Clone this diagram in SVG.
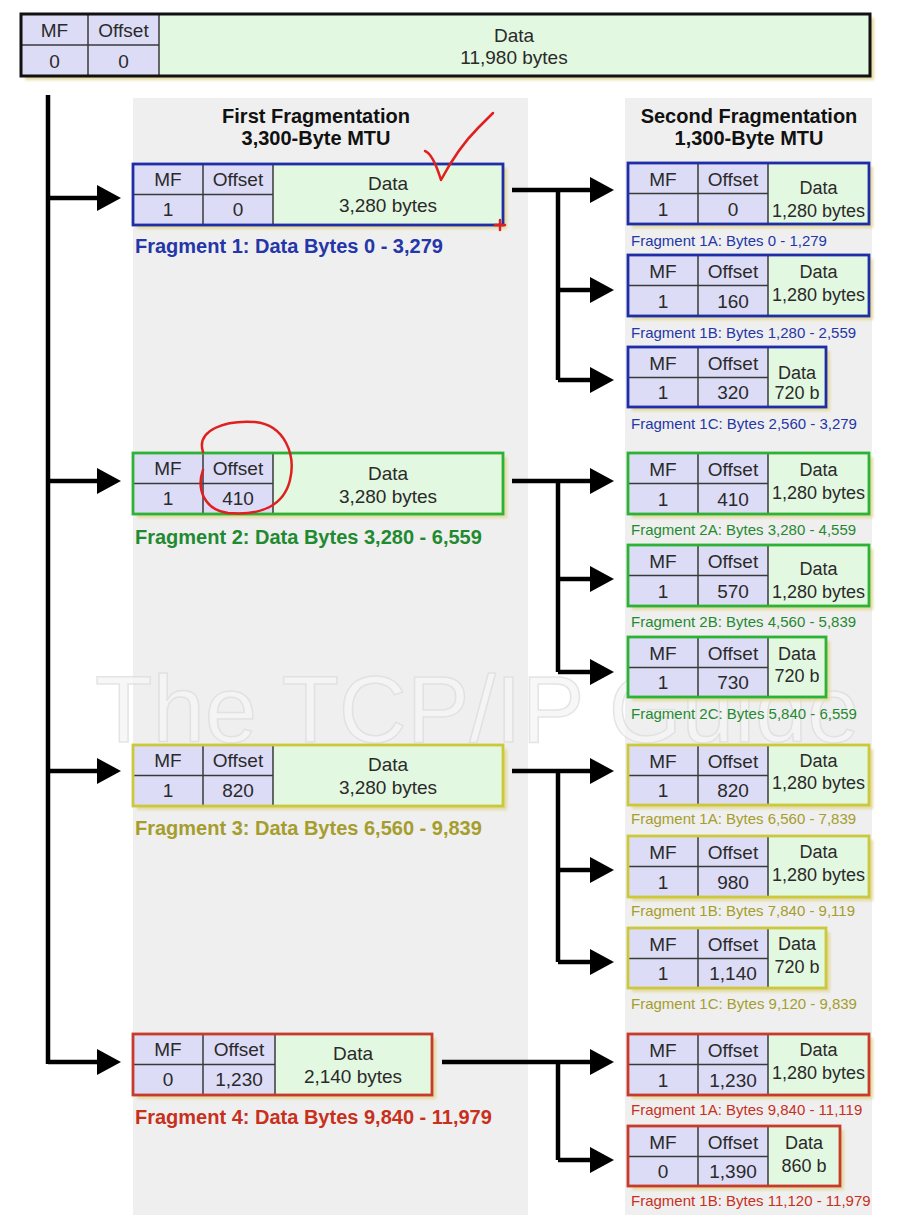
<svg xmlns="http://www.w3.org/2000/svg" width="904" height="1227" viewBox="0 0 904 1227">
<defs>
<marker id="ah" viewBox="0 0 24 26" refX="0" refY="13" markerWidth="24" markerHeight="26" markerUnits="userSpaceOnUse" orient="auto">
<path d="M0,0 L24,13 L0,26 Z" fill="#000"/>
</marker>
<filter id="sh" x="-5%" y="-20%" width="110%" height="140%"><feGaussianBlur stdDeviation="1.5"/></filter>
</defs>
<style>
text{font-family:"Liberation Sans",Arial,sans-serif;fill:#2a2a2a}
.c{font-size:19px;text-anchor:middle}
.d2{font-size:18px;text-anchor:middle}
.t{font-size:20px;font-weight:bold;text-anchor:middle;fill:#111}
.fl{font-size:20px;font-weight:bold}
.sl{font-size:15px}
.hdr{fill:#dcdcf6}
.dat{fill:#e3f8e0}
.div{stroke:#3a3a3a;stroke-width:1.5;fill:none}
.bd{fill:none;stroke-width:2.8}
.shadow{fill:#e4d9a0;filter:url(#sh)}
.blue .bd{stroke:#1f2ea6}
.green .bd{stroke:#2cb234}
.yellow .bd{stroke:#cbc83c}
.red .bd{stroke:#c83a2a}
.blue .fl,.blue .sl{fill:#2436a8}
.green .fl,.green .sl{fill:#1f8a30}
.yellow .fl,.yellow .sl{fill:#a59d2c}
.red .fl,.red .sl{fill:#c8301e}
.conn{stroke:#000;stroke-width:4.5;fill:none}
.panel{fill:#efefef}
.wm{font-size:94px;fill:#f6f6f6;stroke:#dedede;stroke-width:1.5;opacity:0.8}
.note{stroke:#e02020;stroke-width:2.5;fill:none;stroke-linecap:round;stroke-linejoin:round}
</style>
<rect width="904" height="1227" fill="#ffffff"/>
<g id="panels">
<rect class="panel" x="133" y="98" width="395" height="1117"/>
<rect class="panel" x="625" y="98" width="247" height="1117"/>
</g>
<text class="wm" x="95" y="742">The TCP/IP Guide</text>
<g id="titles">
<text class="t" x="316" y="123">First Fragmentation</text>
<text class="t" x="316" y="145">3,300-Byte MTU</text>
<text class="t" x="749" y="123">Second Fragmentation</text>
<text class="t" x="749" y="145">1,300-Byte MTU</text>
</g>
<g id="original">
<rect class="shadow" x="25" y="18" width="849" height="62"/>
<rect class="hdr" x="21" y="14" width="138" height="62"/>
<rect class="dat" x="159" y="14" width="711" height="62"/>
<path class="div" d="M88,14V76M159,14V76M21,45H159"/>
<rect x="21" y="14" width="849" height="62" fill="none" stroke="#111" stroke-width="3"/>
<text class="c" x="54.5" y="37">MF</text>
<text class="c" x="123.5" y="37">Offset</text>
<text class="c" x="54.5" y="68">0</text>
<text class="c" x="123.5" y="68">0</text>
<text class="c" x="514" y="42">Data</text>
<text class="c" x="514" y="64">11,980 bytes</text>
</g>
<g id="connectors">
<path class="conn" d="M48,95V1064"/>
<path class="conn" d="M48,198H97" marker-end="url(#ah)"/>
<path class="conn" d="M48,481H97" marker-end="url(#ah)"/>
<path class="conn" d="M48,771H97" marker-end="url(#ah)"/>
<path class="conn" d="M48,1062H97" marker-end="url(#ah)"/>
<path class="conn" d="M512,190H590" marker-end="url(#ah)"/>
<path class="conn" d="M558,190V380"/>
<path class="conn" d="M558,290H590" marker-end="url(#ah)"/>
<path class="conn" d="M558,380H590" marker-end="url(#ah)"/>
<path class="conn" d="M512,481H590" marker-end="url(#ah)"/>
<path class="conn" d="M558,481V672"/>
<path class="conn" d="M558,579H590" marker-end="url(#ah)"/>
<path class="conn" d="M558,672H590" marker-end="url(#ah)"/>
<path class="conn" d="M512,771H590" marker-end="url(#ah)"/>
<path class="conn" d="M558,771V962"/>
<path class="conn" d="M558,870H590" marker-end="url(#ah)"/>
<path class="conn" d="M558,962H590" marker-end="url(#ah)"/>
<path class="conn" d="M442,1062H590" marker-end="url(#ah)"/>
<path class="conn" d="M558,1062V1160"/>
<path class="conn" d="M558,1160H590" marker-end="url(#ah)"/>
</g>
<g id="frag1" class="blue">
<rect class="shadow" x="137" y="168" width="370" height="61"/>
<rect class="hdr" x="133" y="164" width="140" height="61"/>
<rect class="dat" x="273" y="164" width="230" height="61"/>
<path class="div" d="M203,164V225M273,164V225M133,194.5H273"/>
<rect class="bd" x="133" y="164" width="370" height="61"/>
<text class="c" x="168" y="186">MF</text>
<text class="c" x="238" y="186">Offset</text>
<text class="c" x="168" y="216">1</text>
<text class="c" x="238" y="216">0</text>
<text class="c" x="388" y="190">Data</text>
<text class="c" x="388" y="212">3,280 bytes</text>
<text class="fl" x="135" y="253">Fragment 1: Data Bytes 0 - 3,279</text>
</g>
<g id="frag2" class="green">
<rect class="shadow" x="137" y="457" width="370" height="61"/>
<rect class="hdr" x="133" y="453" width="140" height="61"/>
<rect class="dat" x="273" y="453" width="230" height="61"/>
<path class="div" d="M203,453V514M273,453V514M133,483.5H273"/>
<rect class="bd" x="133" y="453" width="370" height="61"/>
<text class="c" x="168" y="475">MF</text>
<text class="c" x="238" y="475">Offset</text>
<text class="c" x="168" y="505">1</text>
<text class="c" x="238" y="505">410</text>
<text class="c" x="388" y="480">Data</text>
<text class="c" x="388" y="503">3,280 bytes</text>
<text class="fl" x="135" y="544">Fragment 2: Data Bytes 3,280 - 6,559</text>
</g>
<g id="frag3" class="yellow">
<rect class="shadow" x="137" y="749" width="370" height="61"/>
<rect class="hdr" x="133" y="745" width="140" height="61"/>
<rect class="dat" x="273" y="745" width="230" height="61"/>
<path class="div" d="M203,745V806M273,745V806M133,775.5H273"/>
<rect class="bd" x="133" y="745" width="370" height="61"/>
<text class="c" x="168" y="767">MF</text>
<text class="c" x="238" y="767">Offset</text>
<text class="c" x="168" y="797">1</text>
<text class="c" x="238" y="797">820</text>
<text class="c" x="388" y="771">Data</text>
<text class="c" x="388" y="794">3,280 bytes</text>
<text class="fl" x="135" y="835">Fragment 3: Data Bytes 6,560 - 9,839</text>
</g>
<g id="frag4" class="red">
<rect class="shadow" x="137" y="1038" width="299" height="61"/>
<rect class="hdr" x="133" y="1034" width="142" height="61"/>
<rect class="dat" x="275" y="1034" width="157" height="61"/>
<path class="div" d="M203,1034V1095M275,1034V1095M133,1064.5H275"/>
<rect class="bd" x="133" y="1034" width="299" height="61"/>
<text class="c" x="168" y="1056">MF</text>
<text class="c" x="239" y="1056">Offset</text>
<text class="c" x="168" y="1086">0</text>
<text class="c" x="239" y="1086">1,230</text>
<text class="c" x="353" y="1060">Data</text>
<text class="c" x="353" y="1083">2,140 bytes</text>
<text class="fl" x="135" y="1124">Fragment 4: Data Bytes 9,840 - 11,979</text>
</g>
<g id="frag1a" class="blue">
<rect class="shadow" x="632" y="167" width="241" height="61"/>
<rect class="hdr" x="628" y="163" width="140" height="61"/>
<rect class="dat" x="768" y="163" width="101" height="61"/>
<path class="div" d="M698,163V224M768,163V224M628,193.5H768"/>
<rect class="bd" x="628" y="163" width="241" height="61"/>
<text class="c" x="663" y="186">MF</text>
<text class="c" x="733" y="186">Offset</text>
<text class="c" x="663" y="216">1</text>
<text class="c" x="733" y="216">0</text>
<text class="d2" x="818.5" y="194">Data</text>
<text class="d2" x="818.5" y="217">1,280 bytes</text>
<text class="sl" x="631" y="246">Fragment 1A: Bytes 0 - 1,279</text>
</g>
<g id="frag1b" class="blue">
<rect class="shadow" x="632" y="259" width="241" height="61"/>
<rect class="hdr" x="628" y="255" width="140" height="61"/>
<rect class="dat" x="768" y="255" width="101" height="61"/>
<path class="div" d="M698,255V316M768,255V316M628,285.5H768"/>
<rect class="bd" x="628" y="255" width="241" height="61"/>
<text class="c" x="663" y="278">MF</text>
<text class="c" x="733" y="278">Offset</text>
<text class="c" x="663" y="308">1</text>
<text class="c" x="733" y="308">160</text>
<text class="d2" x="818.5" y="278">Data</text>
<text class="d2" x="818.5" y="301">1,280 bytes</text>
<text class="sl" x="631" y="338">Fragment 1B: Bytes 1,280 - 2,559</text>
</g>
<g id="frag1c" class="blue">
<rect class="shadow" x="632" y="351" width="198" height="60"/>
<rect class="hdr" x="628" y="347" width="140" height="60"/>
<rect class="dat" x="768" y="347" width="58" height="60"/>
<path class="div" d="M698,347V407M768,347V407M628,377.5H768"/>
<rect class="bd" x="628" y="347" width="198" height="60"/>
<text class="c" x="663" y="370">MF</text>
<text class="c" x="733" y="370">Offset</text>
<text class="c" x="663" y="399">1</text>
<text class="c" x="733" y="399">320</text>
<text class="d2" x="797" y="379">Data</text>
<text class="d2" x="797" y="399">720 b</text>
<text class="sl" x="631" y="429">Fragment 1C: Bytes 2,560 - 3,279</text>
</g>
<g id="frag2a" class="green">
<rect class="shadow" x="632" y="457" width="241" height="61"/>
<rect class="hdr" x="628" y="453" width="140" height="61"/>
<rect class="dat" x="768" y="453" width="101" height="61"/>
<path class="div" d="M698,453V514M768,453V514M628,483.5H768"/>
<rect class="bd" x="628" y="453" width="241" height="61"/>
<text class="c" x="663" y="476">MF</text>
<text class="c" x="733" y="476">Offset</text>
<text class="c" x="663" y="506">1</text>
<text class="c" x="733" y="506">410</text>
<text class="d2" x="818.5" y="476">Data</text>
<text class="d2" x="818.5" y="499">1,280 bytes</text>
<text class="sl" x="631" y="535">Fragment 2A: Bytes 3,280 - 4,559</text>
</g>
<g id="frag2b" class="green">
<rect class="shadow" x="632" y="549" width="241" height="61"/>
<rect class="hdr" x="628" y="545" width="140" height="61"/>
<rect class="dat" x="768" y="545" width="101" height="61"/>
<path class="div" d="M698,545V606M768,545V606M628,575.5H768"/>
<rect class="bd" x="628" y="545" width="241" height="61"/>
<text class="c" x="663" y="568">MF</text>
<text class="c" x="733" y="568">Offset</text>
<text class="c" x="663" y="598">1</text>
<text class="c" x="733" y="598">570</text>
<text class="d2" x="818.5" y="575">Data</text>
<text class="d2" x="818.5" y="598">1,280 bytes</text>
<text class="sl" x="631" y="627">Fragment 2B: Bytes 4,560 - 5,839</text>
</g>
<g id="frag2c" class="green">
<rect class="shadow" x="632" y="641" width="198" height="60"/>
<rect class="hdr" x="628" y="637" width="140" height="60"/>
<rect class="dat" x="768" y="637" width="58" height="60"/>
<path class="div" d="M698,637V697M768,637V697M628,667.5H768"/>
<rect class="bd" x="628" y="637" width="198" height="60"/>
<text class="c" x="663" y="660">MF</text>
<text class="c" x="733" y="660">Offset</text>
<text class="c" x="663" y="689">1</text>
<text class="c" x="733" y="689">730</text>
<text class="d2" x="797" y="660">Data</text>
<text class="d2" x="797" y="682">720 b</text>
<text class="sl" x="631" y="719">Fragment 2C: Bytes 5,840 - 6,559</text>
</g>
<g id="frag3a" class="yellow">
<rect class="shadow" x="632" y="749" width="241" height="60"/>
<rect class="hdr" x="628" y="745" width="140" height="60"/>
<rect class="dat" x="768" y="745" width="101" height="60"/>
<path class="div" d="M698,745V805M768,745V805M628,775.5H768"/>
<rect class="bd" x="628" y="745" width="241" height="60"/>
<text class="c" x="663" y="768">MF</text>
<text class="c" x="733" y="768">Offset</text>
<text class="c" x="663" y="797">1</text>
<text class="c" x="733" y="797">820</text>
<text class="d2" x="818.5" y="767">Data</text>
<text class="d2" x="818.5" y="789">1,280 bytes</text>
<text class="sl" x="631" y="824">Fragment 1A: Bytes 6,560 - 7,839</text>
</g>
<g id="frag3b" class="yellow">
<rect class="shadow" x="632" y="840" width="241" height="61"/>
<rect class="hdr" x="628" y="836" width="140" height="61"/>
<rect class="dat" x="768" y="836" width="101" height="61"/>
<path class="div" d="M698,836V897M768,836V897M628,866.5H768"/>
<rect class="bd" x="628" y="836" width="241" height="61"/>
<text class="c" x="663" y="859">MF</text>
<text class="c" x="733" y="859">Offset</text>
<text class="c" x="663" y="889">1</text>
<text class="c" x="733" y="889">980</text>
<text class="d2" x="818.5" y="858">Data</text>
<text class="d2" x="818.5" y="881">1,280 bytes</text>
<text class="sl" x="631" y="916">Fragment 1B: Bytes 7,840 - 9,119</text>
</g>
<g id="frag3c" class="yellow">
<rect class="shadow" x="632" y="932" width="198" height="60"/>
<rect class="hdr" x="628" y="928" width="140" height="60"/>
<rect class="dat" x="768" y="928" width="58" height="60"/>
<path class="div" d="M698,928V988M768,928V988M628,958.5H768"/>
<rect class="bd" x="628" y="928" width="198" height="60"/>
<text class="c" x="663" y="951">MF</text>
<text class="c" x="733" y="951">Offset</text>
<text class="c" x="663" y="980">1</text>
<text class="c" x="733" y="980">1,140</text>
<text class="d2" x="797" y="950">Data</text>
<text class="d2" x="797" y="973">720 b</text>
<text class="sl" x="631" y="1009">Fragment 1C: Bytes 9,120 - 9,839</text>
</g>
<g id="frag4a" class="red">
<rect class="shadow" x="632" y="1038" width="241" height="61"/>
<rect class="hdr" x="628" y="1034" width="140" height="61"/>
<rect class="dat" x="768" y="1034" width="101" height="61"/>
<path class="div" d="M698,1034V1095M768,1034V1095M628,1064.5H768"/>
<rect class="bd" x="628" y="1034" width="241" height="61"/>
<text class="c" x="663" y="1057">MF</text>
<text class="c" x="733" y="1057">Offset</text>
<text class="c" x="663" y="1087">1</text>
<text class="c" x="733" y="1087">1,230</text>
<text class="d2" x="818.5" y="1056">Data</text>
<text class="d2" x="818.5" y="1079">1,280 bytes</text>
<text class="sl" x="631" y="1115">Fragment 1A: Bytes 9,840 - 11,119</text>
</g>
<g id="frag4b" class="red">
<rect class="shadow" x="632" y="1130" width="212" height="60"/>
<rect class="hdr" x="628" y="1126" width="140" height="60"/>
<rect class="dat" x="768" y="1126" width="72" height="60"/>
<path class="div" d="M698,1126V1186M768,1126V1186M628,1156.5H768"/>
<rect class="bd" x="628" y="1126" width="212" height="60"/>
<text class="c" x="663" y="1149">MF</text>
<text class="c" x="733" y="1149">Offset</text>
<text class="c" x="663" y="1178">0</text>
<text class="c" x="733" y="1178">1,390</text>
<text class="d2" x="804" y="1149">Data</text>
<text class="d2" x="804" y="1172">860 b</text>
<text class="sl" x="631" y="1206">Fragment 1B: Bytes 11,120 - 11,979</text>
</g>
<g id="annotations">
<path class="note" d="M425,151 Q433,154 441,180 Q458,148 478,128 Q487,119 493,113"/>
<path class="note" d="M203,452 C196,430 225,420 255,422 C285,425 296,455 290,480 C284,505 262,516 228,513 C205,510 196,490 203,470"/>
<path class="note" d="M495,225H505M500,220V230" stroke-width="2"/>
</g>
</svg>
